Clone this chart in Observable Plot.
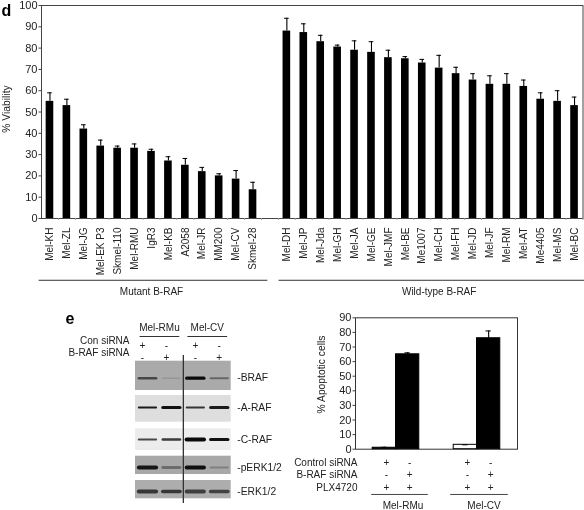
<!DOCTYPE html>
<html>
<head>
<meta charset="utf-8">
<script src="https://cdn.jsdelivr.net/npm/d3@7"></script>
<script src="https://cdn.jsdelivr.net/npm/@observablehq/plot@0.6"></script>
<style>
html,body{margin:0;padding:0;background:#fff;}
#page{position:relative;width:584px;height:510px;overflow:hidden;filter:blur(0.3px);}
#page svg{position:absolute;overflow:visible;background:transparent;}
.blur{filter:blur(0.7px);}
.lane{filter:blur(0.7px);}
</style>
</head>
<body>
<div id="page"></div>
<script>
// Panel d: viability after B-RAF inhibition
const mutantLines = ["Mel-KH","Mel-ZL","Mel-JG","Mel-EK P3","Skmel-110","Mel-RMU","IgR3","Mel-KB","A2058","Mel-JR","MM200","Mel-CV","Skmel-28"];
const mutantValues = [55,53,42,34,33,33,31.5,27,25,22,20,18.5,13.5];
const mutantTops = [59,56,44,36.8,34,35,32.5,29,28.2,24,21,22.5,17];
const wildLines = ["Mel-DH","Mel-JP","Mel-Jda","Mel-GH","Mel-JA","Mel-GE","Mel-JMF","Mel-BE","Me1007","Mel-CH","Mel-FH","Mel-JD","Mel-JF","Mel-RM","Mel-AT","Me4405","Mel-MS","Mel-BC"];
const wildValues = [88,87.3,83,80.5,79,78,75.5,75,73,70.6,68,65,63,63,62,56,55,53];
const wildTops = [94,91.4,86,81.4,83.4,83,79,76,74.7,76.6,71,68,67,68,65,59,60,57];

// Panel e: apoptosis
const apoCells = ["Mel-RMu","Mel-RMu","Mel-CV","Mel-CV"];
const apoArms = ["Control","B-RAF","Control","B-RAF"];
const apoValues = [1,65,3,76];
const apoTops = [1.3,66,3,81];
const apoFills = ["black","black","white","black"];
const apoRows = ["Control siRNA","B-RAF siRNA","PLX4720"];
const apoSigns = [["+","-","+","-"],["-","+","-","+"],["+","+","+","+"]];

// Panel e: western blots
const blotRows = ["-BRAF","-A-RAF","-C-RAF","-pERK1/2","-ERK1/2"];
const blotTop = [60.7,95,128.3,155.7,180];
const blotBottom = [90,121.7,150,174,198.3];
const blotGrey = ["#aaaaaa","#dedede","#ececec","#a8a8a8","#adadad"];
const blotBand = [77.7,107,139,167,191];
const blotIntensity = [[.62,.12,1,.42],[.92,.97,.8,.92],[.72,.78,1,.97],[.92,.38,.97,.26],[.72,.72,.68,.66]];
const blotWidth = [[2.5,1.5,3.2,2],[2,3,2,3],[2.2,2.4,4.2,3.2],[4,2.8,4,2],[4,3.6,3.8,3.6]];
const laneNames = [1,2,3,4];
const blotHeader = ["Mel-RMu","Mel-CV"];
const blotSignRows = ["Con siRNA","B-RAF siRNA"];
const blotSigns = [["+","-","+","-"],["-","+","-","+"]];

const font = {fontFamily:"'Liberation Sans', Arial, sans-serif", fontSize:"10px", color:"#222", background:"transparent"};
const page = document.getElementById("page");
function place(svg, left, top){ svg.style.left = left+"px"; svg.style.top = top+"px"; page.appendChild(svg); }

// ---- d
const rows = [
  ...mutantLines.map((name,i)=>({name,value:mutantValues[i],top:mutantTops[i]})),
  ...wildLines.map((name,i)=>({name,value:wildValues[i],top:wildTops[i]}))
];
const domainD = [...mutantLines," ",...wildLines];
const d = Plot.plot({
  width:584, height:300, marginTop:5, marginBottom:82, marginLeft:41, marginRight:1.5, style:font,
  x:{type:"band",domain:domainD,paddingInner:.55,paddingOuter:.275,round:false,label:null},
  y:{domain:[0,100],ticks:10,label:null},
  marks:[
    Plot.barY(rows,{x:"name",y:"value",fill:"black"}),
    Plot.ruleX(rows,{x:"name",y1:"value",y2:"top",stroke:"black",strokeWidth:1.1}),
    Plot.tickY(rows,{x:"name",y:"top",stroke:"black",strokeWidth:1,insetLeft:1.5,insetRight:1.5}),
    Plot.frame({stroke:"#444",strokeWidth:1}),
    Plot.ruleX(domainD,{x:d=>d,y1:()=>0,y2:()=>-0.9,dx:8.45,stroke:"#999"}),
    Plot.axisY({ticks:10,tickSize:2.5,tickPadding:1.5,fontSize:11,label:null,stroke:"#444"}),
    Plot.axisX({tickSize:0,tickRotate:-90,tickPadding:9,label:null,fontSize:10}),
    Plot.text(["% Viability"],{frameAnchor:"left",textAnchor:"middle",rotate:-90,dx:-35,dy:-3,fontSize:10.3,fill:"#222"}),
    Plot.text(["d"],{frameAnchor:"top-left",dx:-40,dy:-1,fontSize:16,fontWeight:"bold",textAnchor:"start",lineAnchor:"top",fill:"black"}),
    Plot.ruleY([-29],{x1:()=>"Mel-KH",x2:()=>"Skmel-28",stroke:"#333",insetLeft:-7,insetRight:-11}),
    Plot.ruleY([-29],{x1:()=>"Mel-DH",x2:()=>"Mel-BC",stroke:"#333",insetLeft:-4,insetRight:-9}),
    Plot.text(["Mutant B-RAF"],{x:()=>"IgR3",y:()=>-34.5,fontSize:10,fill:"#222"}),
    Plot.text(["Wild-type B-RAF"],{x:()=>"Mel-CH",y:()=>-34.5,fontSize:10,fill:"#222"})
  ]
});
place(d,0,0);

// ---- e, bars
const apo = apoValues.map((v,i)=>({cell:apoCells[i],arm:apoArms[i],value:v,top:apoTops[i],color:apoFills[i]}));
const signs = apoRows.flatMap((row,r)=>apo.map((a,i)=>({cell:a.cell,arm:a.arm,row,sign:apoSigns[r][i],r})));
const rowOffsets = [16.5,29,41.5];
const eSize = {width:300, height:210, marginTop:17.3, marginBottom:61.3, marginLeft:71, marginRight:67, style:font};
const eAxes = Plot.plot({
  ...eSize,
  x:{domain:[0,1],axis:null,label:null},
  y:{domain:[0,90],ticks:9,label:null},
  marks:[
    Plot.frame({stroke:"#333",strokeWidth:1}),
    Plot.axisY({ticks:9,tickSize:2.5,tickPadding:1.5,fontSize:11,label:null,stroke:"#444"}),
    Plot.text(["% Apoptotic cells"],{frameAnchor:"left",textAnchor:"middle",rotate:-90,dx:-34,dy:-9,fontSize:10.3,fill:"#222"}),
    ...rowOffsets.map((dy,r)=>Plot.text([apoRows[r]],{frameAnchor:"bottom-left",dx:2,dy,textAnchor:"end",fontSize:10,fill:"#222"}))
  ]
});
place(eAxes,284,300);
const e = Plot.plot({
  ...eSize,
  fx:{domain:blotHeader,paddingInner:.425,paddingOuter:.2125,round:false,label:null,axis:null},
  x:{domain:["Control","B-RAF"],padding:0,round:false,axis:null,label:null},
  y:{domain:[0,90],axis:null,label:null},
  marks:[
    Plot.barY(apo,{fx:"cell",x:"arm",y:"value",fill:"color",stroke:"black",strokeWidth:1}),
    Plot.ruleX(apo,{fx:"cell",x:"arm",y1:"value",y2:"top",stroke:"black",strokeWidth:1.1}),
    Plot.tickY(apo,{fx:"cell",x:"arm",y:"top",stroke:"black",insetLeft:9,insetRight:9}),
    ...rowOffsets.map((dy,r)=>Plot.text(signs.filter(s=>s.r===r),{fx:"cell",x:"arm",text:"sign",frameAnchor:"bottom",dy,dx:2,fontSize:10,fill:"#222"})),
    Plot.ruleY(["Mel-RMu"],{fx:d=>d,y:()=>-31,stroke:"#444",insetLeft:-1,insetRight:-9}),
    Plot.ruleY(["Mel-CV"],{fx:d=>d,y:()=>-31,stroke:"#444",insetLeft:-3,insetRight:-8}),
    Plot.text(blotHeader,{fx:d=>d,text:d=>d,frameAnchor:"bottom",dy:60,dx:7,fontSize:10,fill:"#222"})
  ]
});
place(e,284,300);

// ---- e, blots
const panels = blotRows.map((name,i)=>({name,y1:blotTop[i],y2:blotBottom[i],shade:blotGrey[i],band:blotBand[i]}));
const bands = blotRows.flatMap((name,r)=>laneNames.map((lane,l)=>({lane,y:blotBand[r],op:blotIntensity[r][l],w:blotWidth[r][l]})));
const headerRows = blotHeader.map((name,i)=>({name,a:laneNames[i*2],b:laneNames[i*2+1]}));
const blotSignData = blotSignRows.flatMap((row,r)=>laneNames.map((lane,l)=>({lane,r,sign:blotSigns[r][l]})));
const blot = Plot.plot({
  width:284, height:210, marginTop:0, marginBottom:0, marginLeft:135, marginRight:53.3, style:font,
  x:{domain:[.5,4.5],axis:null,label:null},
  y:{type:"linear",domain:[0,210],range:[0,210],axis:null,label:null},
  marks:[
    Plot.rect(panels,{x1:()=>.5,x2:()=>4.5,y1:"y1",y2:"y2",fill:"shade",className:"blur"}),
    Plot.link(bands,{x1:d=>d.lane-.36,x2:d=>d.lane+.36,y1:"y",y2:"y",strokeWidth:"w",strokeOpacity:"op",stroke:"#0a0a0a",strokeLinecap:"round",className:"lane"}),
    Plot.ruleX([2.5],{y1:55,y2:203,stroke:"#333",strokeWidth:1.3}),
    Plot.text(panels,{text:"name",y:"band",frameAnchor:"right",textAnchor:"start",dx:6,fontSize:10.3,fill:"#222"}),
    Plot.text(headerRows,{text:"name",x:d=>(d.a+d.b)/2,y:()=>27,fontSize:10,fill:"#222"}),
    Plot.link(headerRows,{x1:d=>d.a-.33,x2:d=>d.b+.33,y1:()=>36,y2:()=>36,stroke:"#333"}),
    ...[0,1].flatMap(r=>[
      Plot.text(blotSignData.filter(s=>s.r===r&&s.lane<=2),{x:"lane",y:()=>45+12*r,text:"sign",fontSize:10,fill:"#222",dx:-5}),
      Plot.text(blotSignData.filter(s=>s.r===r&&s.lane>2),{x:"lane",y:()=>45+12*r,text:"sign",fontSize:10,fill:"#222"})
    ]),
    Plot.text(blotSignRows,{text:d=>d,frameAnchor:"left",y:(d,i)=>i?52.7:40.7,textAnchor:"end",dx:-6,fontSize:10,fill:"#222"}),
    Plot.text(["e"],{frameAnchor:"left",y:()=>18,dx:-70,textAnchor:"start",fontSize:16,fontWeight:"bold",fill:"black"})
  ]
});
place(blot,0,300);
</script>
</body>
</html>
